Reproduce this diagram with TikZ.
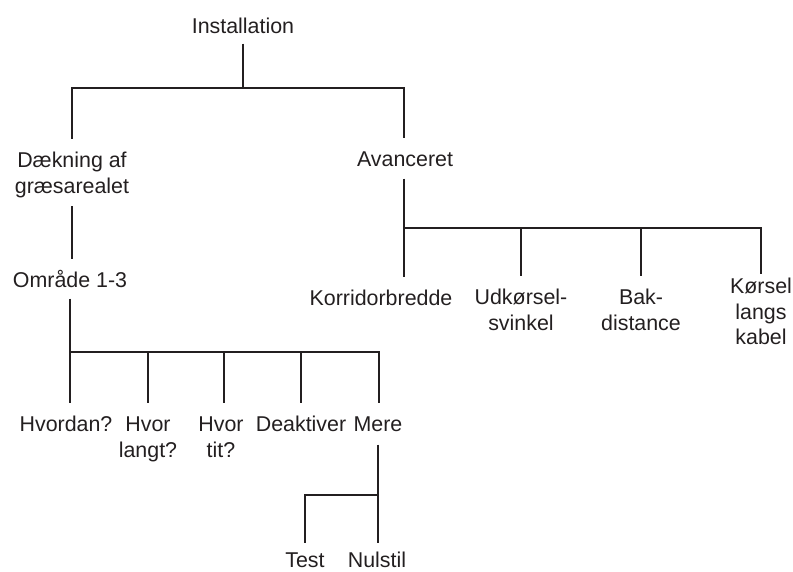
\documentclass[tikz,border=0pt]{standalone}
\usepackage{fontspec}
\setmainfont{Liberation Sans}
\definecolor{ink}{HTML}{231F20}
\begin{document}
\begin{tikzpicture}[x=1pt,y=-1pt,
  lab/.style={anchor=north,inner sep=0pt,outer sep=0pt,align=center,text=ink,
    font=\fontsize{21.4}{25.6}\selectfont},
  conn/.style={draw=ink,line width=2.8pt,shorten <=4.5pt,shorten >=10.5pt},
  bar/.style={draw=ink,line width=2.8pt}]
\useasboundingbox (0,0) rectangle (793,571);
% nodes
\node[lab] (inst) at (243,15.5) {\strut Installation};
\node[lab] (dak)  at (72,149.5) {\strut Dækning af\\\strut græsarealet};
\node[lab] (avan) at (405,148.5) {\strut Avanceret};
\node[lab] (omr)  at (70,269.5) {\strut Område 1-3};
\node[lab] (kor)  at (381,287.5) {\strut Korridorbredde};
\node[lab] (udk)  at (521,286.5) {\strut Udkørsel-\\\strut svinkel};
\node[lab] (bak)  at (641,286.5) {\strut Bak-\\\strut distance};
\node[lab] (kors) at (761,275.5) {\strut Kørsel\\\strut langs\\\strut kabel};
\node[lab] (hvd)  at (66,413.5) {\strut Hvordan?};
\node[lab] (hvl)  at (148,413.5) {\strut Hvor\\\strut langt?};
\node[lab] (hvt)  at (221,413.5) {\strut Hvor\\\strut tit?};
\node[lab] (dea)  at (301,413.5) {\strut Deaktiver};
\node[lab] (mere) at (378,413.5) {\strut Mere};
\node[lab] (test) at (305,549.5) {\strut Test};
\node[lab] (nul)  at (377,549.5) {\strut Nulstil};
% junction levels
\coordinate (j1) at (0,88);
\coordinate (j2) at (0,228);
\coordinate (j3) at (0,352);
\coordinate (j4) at (0,495);
% Installation
\draw[conn,shorten <=2.5pt,shorten >=0pt] (inst.south) -- (inst.south |- j1);
\draw[bar,shorten >=10.5pt] (inst.south |- j1) -| (dak.north);
\draw[bar,shorten >=10.5pt] (inst.south |- j1) -| ([xshift=-1pt]avan.north);
% Avanceret
\draw[conn] ([xshift=-1pt]avan.south) -- ([xshift=-1pt]avan.south |- kor.north);
\draw[bar,shorten >=0pt] ([xshift=-1pt]avan.south |- j2) -| ([yshift=1.5pt]kors.north);
\draw[bar,shorten >=10.5pt] (udk.north |- j2) -- (udk.north);
\draw[bar,shorten >=10.5pt] (bak.north |- j2) -- (bak.north);
% Dækning
\draw[conn,shorten <=5.5pt] (dak.south) -- (dak.south |- omr.north);
% Område
\draw[conn,shorten <=3.5pt] (omr.south) -- (omr.south |- hvd.north);
\draw[bar,shorten >=10.5pt] (omr.south |- j3) -| ([xshift=1pt]mere.north);
\draw[bar,shorten >=10.5pt] (hvl.north |- j3) -- (hvl.north);
\draw[bar,shorten >=10.5pt] ([xshift=3pt]hvt.north |- j3) -- ([xshift=3pt]hvt.north);
\draw[bar,shorten >=10.5pt] (dea.north |- j3) -- (dea.north);
% Mere
\draw[conn,shorten <=5.5pt,shorten >=6.5pt] (mere.south) -- (mere.south |- nul.north);
\draw[bar,shorten >=6.5pt] (mere.south |- j4) -| (test.north);
\end{tikzpicture}
\end{document}
